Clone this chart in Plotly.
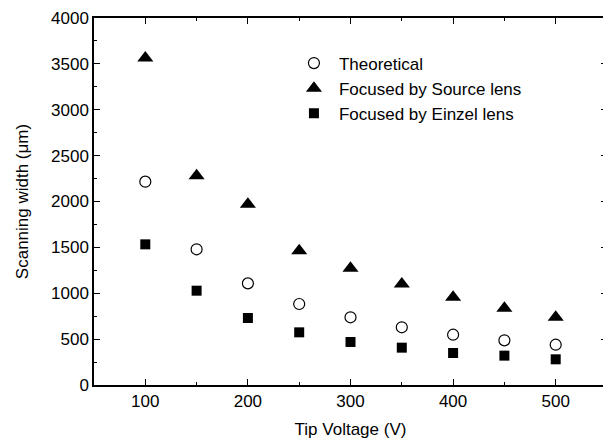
import plotly.graph_objects as go

voltage = [100, 150, 200, 250, 300, 350, 400, 450, 500]
theoretical = [2216, 1479, 1108, 883, 738, 629, 548, 487, 439]
source_lens = [3565, 2280, 1970, 1464, 1272, 1101, 956, 836, 738]
einzel_lens = [1533, 1028, 730, 574, 469, 407, 349, 320, 280]

FONT = "Liberation Sans, Arial, sans-serif"
FS = 17

fig = go.Figure()
fig.add_trace(go.Scatter(x=voltage, y=theoretical, mode="markers", name="Theoretical",
                         marker=dict(symbol="circle-open", size=11, color="black", line=dict(width=1.2, color="black"))))
fig.add_trace(go.Scatter(x=voltage, y=source_lens, mode="markers", name="Focused by Source lens",
                         marker=dict(symbol="triangle-up", size=14, color="black")))
fig.add_trace(go.Scatter(x=voltage, y=einzel_lens, mode="markers", name="Focused by Einzel lens",
                         marker=dict(symbol="square", size=10, color="black")))

axis_common = dict(showline=True, linecolor="black", linewidth=1.5, mirror="ticks",
                   ticks="inside", ticklen=6, tickwidth=1.2, tickcolor="black",
                   showgrid=False, zeroline=False, automargin=False,
                   tickfont=dict(family=FONT, size=FS, color="black"))

fig.update_xaxes(range=[50, 550], tickvals=[100, 200, 300, 400, 500],
                 minor=dict(tickvals=[50, 150, 250, 350, 450, 550], ticks="inside", ticklen=3, tickcolor="black", tickwidth=1),
                 title=dict(text="Tip Voltage (V)", font=dict(family=FONT, size=FS, color="black"), standoff=13),
                 **axis_common)
fig.update_yaxes(range=[0, 4000], tickvals=[0, 500, 1000, 1500, 2000, 2500, 3000, 3500, 4000],
                 minor=dict(tickvals=[250, 750, 1250, 1750, 2250, 2750, 3250, 3750], ticks="inside", ticklen=3, tickcolor="black", tickwidth=1),
                 title=dict(text="Scanning width (μm)", font=dict(family=FONT, size=FS, color="black"), standoff=18),
                 **axis_common)

fig.update_layout(
    width=603, height=436,
    margin=dict(l=86, r=4, t=10, b=59),
    plot_bgcolor="white", paper_bgcolor="white",
    legend=dict(x=0.38, y=0.925, xanchor="left", yanchor="top", itemwidth=40,
                bgcolor="rgba(0,0,0,0)", font=dict(family=FONT, size=FS, color="black"),
                tracegroupgap=0),
)

fig.write_html("out.html")
